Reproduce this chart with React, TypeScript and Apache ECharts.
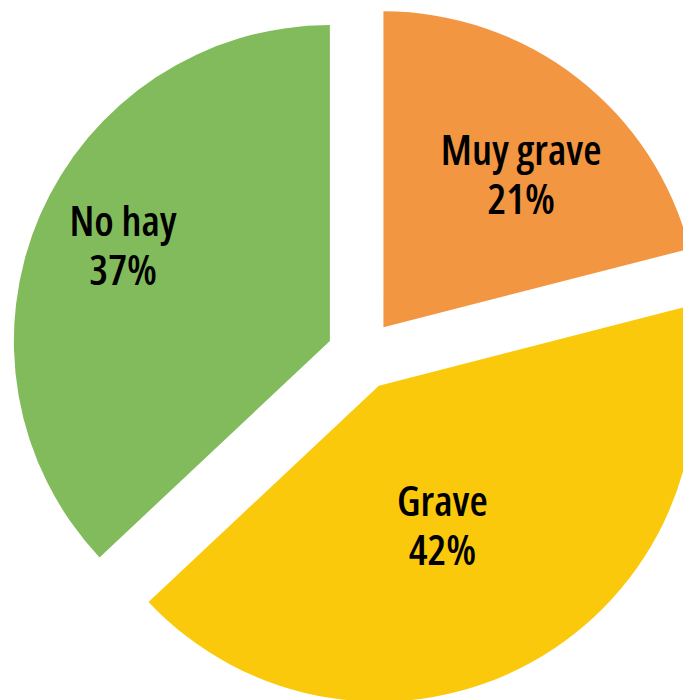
import React, { useEffect, useRef } from "react";
import * as echarts from "echarts";

const categories = ["Muy grave", "Grave", "No hay"];
const values = [21, 42, 37];
const colors = ["#F39642", "#FBC90B", "#82BB5B"];
const labelShifts = [
  [39, -27],
  [-14, -3],
  [-59, -33],
];

export default function App() {
  const ref = useRef<HTMLDivElement>(null);
  useEffect(() => {
    if (!ref.current) return;
    const chart = echarts.init(ref.current, undefined, { renderer: "svg" });
    chart.setOption({
      animation: false,
      series: [
        {
          type: "pie",
          center: [362, 355],
          radius: [0, 316],
          startAngle: 90,
          clockwise: true,
          selectedMode: "multiple",
          selectedOffset: 35,
          emphasis: { disabled: true },
          label: {
            show: true,
            position: "inside",
            formatter: "{b}\n{c}%",
            color: "#000",
            fontFamily: "'Open Sans', sans-serif",
            fontWeight: 600,
            fontSize: 42,
            lineHeight: 49,
            align: "center",
          },
          labelLine: { show: false },
          labelLayout: (params: any) => {
            const s = labelShifts[params.dataIndex];
            return { dx: s[0], dy: s[1] };
          },
          data: categories.map((name, i) => ({
            name,
            value: values[i],
            selected: true,
            itemStyle: { color: colors[i] },
          })),
        },
      ],
    });
    return () => chart.dispose();
  }, []);
  return (
    <>
      <style>{`.pie-host svg text { font-stretch: 75% !important; }`}</style>
      <div
        ref={ref}
        className="pie-host"
        style={{ position: "absolute", left: 0, top: 0, width: 683, height: 700, background: "#fff" }}
      />
    </>
  );
}
